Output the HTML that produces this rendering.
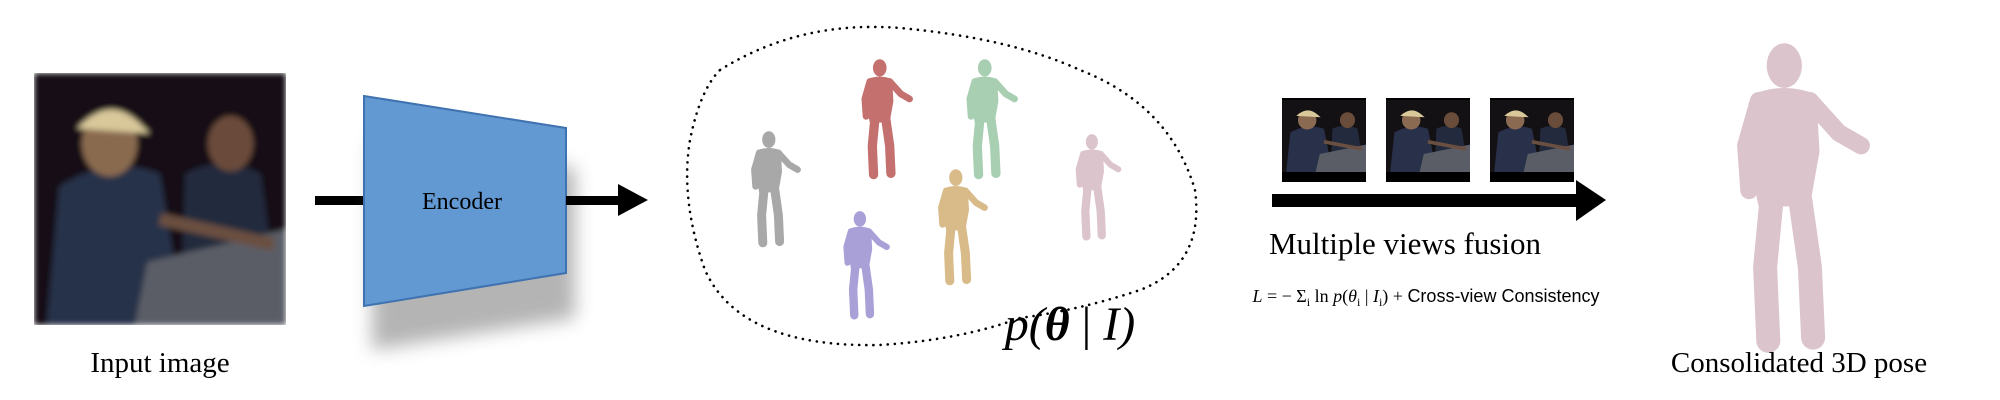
<!DOCTYPE html>
<html><head><meta charset="utf-8"><style>
html,body{margin:0;padding:0;background:#fff}
svg{display:block}
text{font-family:"Liberation Serif",serif;fill:#000}
</style></head><body>
<svg width="2000" height="400" viewBox="0 0 2000 400" xmlns="http://www.w3.org/2000/svg">
<defs>
<symbol id="person" viewBox="0 0 100 200">
<g fill="currentColor" stroke="currentColor" stroke-linecap="round" stroke-linejoin="round">
<ellipse cx="48" cy="16" rx="11" ry="14" stroke="none"/>
<path d="M28 34 Q48 26 68 34 L70 70 Q66 92 64 104 L32 104 Q28 88 28 70 Z" stroke="none"/>
<path d="M64 38 L82 58 L96 66" fill="none" stroke-width="11"/>
<path d="M32 38 L24 66 L26 94" fill="none" stroke-width="11"/>
<path d="M40 100 L36 142 L38 188" fill="none" stroke-width="15"/>
<path d="M58 100 L64 142 L66 186" fill="none" stroke-width="15"/>
</g>
</symbol>
<filter id="blur" x="-30%" y="-30%" width="160%" height="160%"><feGaussianBlur stdDeviation="9"/></filter>
<filter id="soft"><feGaussianBlur stdDeviation="1.2"/></filter>
<g id="scene">
<rect width="100" height="100" fill="#141114"/>
<path d="M10 45 Q30 32 50 40 L60 100 L5 100 Z" fill="#28304a"/>
<ellipse cx="30" cy="28" rx="11" ry="13" fill="#8a6a50"/>
<path d="M17 22 Q30 8 42 20 L46 24 Z" fill="#d8c89a"/>
<path d="M60 40 Q75 32 90 40 L98 100 L58 100 Z" fill="#232a3e"/>
<ellipse cx="78" cy="28" rx="9" ry="11" fill="#6a4c3a"/>
<path d="M45 75 L100 62 L100 100 L40 100 Z" fill="#5a5d66"/>
<path d="M50 58 L95 68" stroke="#6a5040" stroke-width="5"/>
</g>
</defs>

<g>
<svg x="34" y="73" width="252" height="252" viewBox="0 0 100 100" preserveAspectRatio="none"><use href="#scene" filter="url(#soft)"/></svg>
</g>
<text x="160" y="372" font-size="29" text-anchor="middle">Input image</text>

<rect x="315" y="196" width="50" height="9" fill="#000"/>

<path d="M372 140 L575 168 L575 318 L372 350 Z" fill="#777" opacity="0.55" filter="url(#blur)"/>
<path d="M364 96 L566 128 L566 273 L364 306 Z" fill="#6399d2" stroke="#3f72b0" stroke-width="2"/>
<text x="462" y="209" font-size="24" text-anchor="middle">Encoder</text>

<g>
<rect x="566" y="196" width="56" height="9" fill="#000"/>
<path d="M618 184 L648 200 L618 216 Z" fill="#000"/>
</g>

<path d="M720 70 Q800 20 900 28 Q1010 38 1080 70 Q1170 105 1195 190 Q1205 265 1140 290 Q1080 310 1020 318 Q960 340 880 345 Q740 348 705 270 Q680 200 690 140 Q700 90 720 70 Z" fill="none" stroke="#000" stroke-width="2.6" stroke-dasharray="0.1 7" stroke-linecap="round"/>

<use href="#person" x="738" y="130" width="64" height="120" color="#a8a8a8"/>
<use href="#person" x="848" y="58" width="66" height="124" color="#c4706e"/>
<use href="#person" x="953" y="58" width="66" height="124" color="#a9cfb2"/>
<use href="#person" x="828" y="210" width="66" height="112" color="#aaa0d8"/>
<use href="#person" x="923" y="168" width="68" height="120" color="#d8bb88"/>
<use href="#person" x="1061" y="133" width="64" height="110" color="#dcc4cc"/>

<text x="1070" y="340" font-size="48" text-anchor="middle" font-style="italic">p(<tspan font-weight="bold">θ</tspan><tspan font-style="normal"> | </tspan>I)</text>

<g>
<rect x="1282" y="98" width="84" height="84" fill="#000"/>
<svg x="1282" y="100" width="84" height="72" viewBox="0 0 100 100" preserveAspectRatio="none"><use href="#scene"/></svg>
</g>
<g>
<rect x="1386" y="98" width="84" height="84" fill="#000"/>
<svg x="1386" y="100" width="84" height="72" viewBox="0 0 100 100" preserveAspectRatio="none"><use href="#scene"/></svg>
</g>
<g>
<rect x="1490" y="98" width="84" height="84" fill="#000"/>
<svg x="1490" y="100" width="84" height="72" viewBox="0 0 100 100" preserveAspectRatio="none"><use href="#scene"/></svg>
</g>

<g>
<rect x="1272" y="194" width="308" height="13" fill="#000"/>
<path d="M1576 180 L1606 200 L1576 221 Z" fill="#000"/>
</g>
<text x="1405" y="254" font-size="31" text-anchor="middle">Multiple views fusion</text>
<text x="1426" y="302" font-size="18" text-anchor="middle"><tspan font-style="italic">L</tspan> = − Σ<tspan font-size="12" dy="4">i</tspan><tspan dy="-4"> ln </tspan><tspan font-style="italic">p</tspan>(<tspan font-style="italic">θ</tspan><tspan font-size="12" dy="4">i</tspan><tspan dy="-4"> | </tspan><tspan font-style="italic">I</tspan><tspan font-size="12" dy="4">i</tspan><tspan dy="-4">) + </tspan><tspan font-family="Liberation Sans, sans-serif">Cross-view Consistency</tspan></text>

<use href="#person" x="1705" y="40" width="165" height="320" color="#dbc4cb"/>
<text x="1799" y="372" font-size="29" text-anchor="middle">Consolidated 3D pose</text>
</svg>
</body></html>
